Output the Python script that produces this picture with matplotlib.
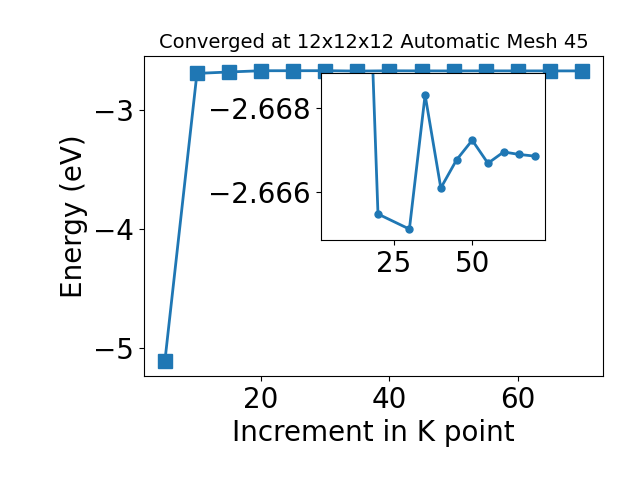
import matplotlib
matplotlib.use('Agg')
import matplotlib.pyplot as plt

# k-point increments and total energies (eV)
kpoints = [5, 10, 15, 20, 25, 30, 35, 40, 45, 50, 55, 60, 65, 70]
energy = [-5.11, -2.688, -2.676, -2.66548, -2.6653, -2.66512, -2.66832, -2.66610,
          -2.66677, -2.66724, -2.66669, -2.66696, -2.66690, -2.66686]

# zoomed-in view (25 is not shown in the inset)
kpoints_inset = [5, 10, 15, 20, 30, 35, 40, 45, 50, 55, 60, 65, 70]
energy_inset = [-5.11, -2.688, -2.676, -2.66548, -2.66512, -2.66832, -2.66610,
                -2.66677, -2.66724, -2.66669, -2.66696, -2.66690, -2.66686]

fig = plt.figure(figsize=(6.4, 4.8), dpi=100)
ax = fig.add_axes([0.225, 0.217, 0.717, 0.666])
ax.plot(kpoints, energy, marker='s', markersize=10, linewidth=2)
ax.set_xlabel('Increment in K point', fontsize=20)
ax.set_ylabel('Energy (eV)', fontsize=20)
ax.set_title('Converged at 12x12x12 Automatic Mesh 45', fontsize=14)
ax.tick_params(labelsize=20)

# inset, y axis flipped
axins = fig.add_axes([0.501, 0.5, 0.351, 0.3485])
axins.plot(kpoints_inset, energy_inset, marker='o', markersize=5, linewidth=2)
axins.set_ylim(-2.66486, -2.66885)
axins.set_xticks([25, 50])
axins.set_yticks([-2.668, -2.666])
axins.tick_params(labelsize=20)

fig.savefig('out.png')
